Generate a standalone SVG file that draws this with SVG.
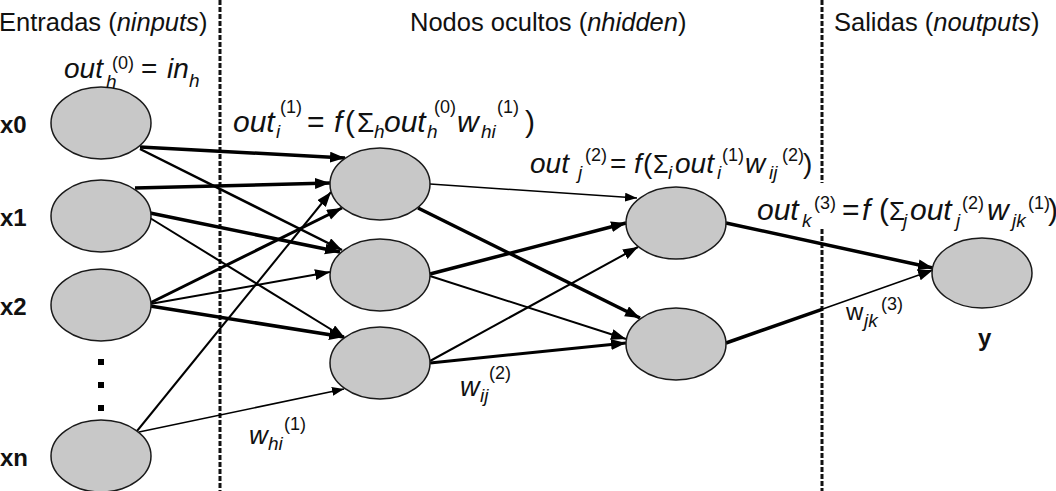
<svg xmlns="http://www.w3.org/2000/svg" width="1056" height="491" viewBox="0 0 1056 491">
<defs>
<marker id="ah" markerUnits="userSpaceOnUse" markerWidth="16" markerHeight="12" refX="15" refY="5.5" orient="auto"><path d="M0,0 L15,5.5 L0,11 z" fill="#000"/></marker>
<marker id="as" markerUnits="userSpaceOnUse" markerWidth="13" markerHeight="10" refX="12" refY="4.5" orient="auto"><path d="M0,0 L12,4.5 L0,9 z" fill="#000"/></marker>
<style>
.node{fill:#c8c8c8;stroke:#1a1a1a;stroke-width:1.5}
.c{fill:none;stroke:#000}
.t{font-family:"Liberation Sans",Arial,sans-serif;fill:#111}
.it{font-style:italic}
.b{font-weight:bold;font-size:24px}
.h{font-size:25.5px}
.sub{font-style:italic;font-size:19px}
.sup{font-size:18px}
.dash{stroke:#111;stroke-width:3;stroke-dasharray:5 2;fill:none}
</style>
</defs>
<rect width="1056" height="491" fill="#fff"/>

<g id="dividers">
<line class="dash" x1="220" y1="0" x2="220" y2="491"/>
<line class="dash" x1="822" y1="0" x2="822" y2="183"/>
<line class="dash" x1="822" y1="229" x2="822" y2="491"/>
</g>

<g id="headers" class="t h">
<text x="-1" y="31">Entradas (<tspan class="it">ninputs</tspan>)</text>
<text x="410" y="31">Nodos ocultos (<tspan class="it">nhidden</tspan>)</text>
<text x="834" y="31">Salidas (<tspan class="it">noutputs</tspan>)</text>
</g>

<g id="connectors">
<path class="c" stroke-width="3.5" marker-end="url(#ah)" d="M140,147 L345,158"/>
<path class="c" stroke-width="2.5" marker-end="url(#ah)" d="M140,149 L342,250"/>
<path class="c" stroke-width="3.5" marker-end="url(#ah)" d="M135,188 L330,183"/>
<path class="c" stroke-width="3.5" marker-end="url(#ah)" d="M150,213 L340,252"/>
<path class="c" stroke-width="2" marker-end="url(#ah)" d="M150,218 L345,338"/>
<path class="c" stroke-width="3" marker-end="url(#ah)" d="M150,303 L342,208"/>
<path class="c" stroke-width="2" marker-end="url(#ah)" d="M150,304 L330,272"/>
<path class="c" stroke-width="3.5" marker-end="url(#ah)" d="M150,306 L344,337"/>
<path class="c" stroke-width="2" marker-end="url(#ah)" d="M137,431 L331,192"/>
<path class="c" stroke-width="1.5" marker-end="url(#as)" d="M139,432 L344,389"/>
<path class="c" stroke-width="1.5" marker-end="url(#as)" d="M430,184 L637,198"/>
<path class="c" stroke-width="3.5" marker-end="url(#ah)" d="M418,208 L640,318"/>
<path class="c" stroke-width="3.5" marker-end="url(#ah)" d="M430,274 L626,223"/>
<path class="c" stroke-width="2" marker-end="url(#ah)" d="M430,276 L626,339"/>
<path class="c" stroke-width="2" marker-end="url(#ah)" d="M430,361 L638,247"/>
<path class="c" stroke-width="3" marker-end="url(#ah)" d="M430,363 L626,343"/>
<path class="c" stroke-width="3.5" marker-end="url(#ah)" d="M726,223 L933,268"/>
<path class="c" stroke-width="3.5" d="M726,343 L822,309.3"/>
<path class="c" stroke-width="1.5" marker-end="url(#ah)" d="M822,309.3 L933,270"/>
</g>

<g id="in0"><ellipse class="node" cx="101" cy="123" rx="50" ry="36"/><text class="t b" x="0" y="133">x0</text></g>
<g id="in1"><ellipse class="node" cx="101" cy="216" rx="50" ry="36"/><text class="t b" x="0" y="226">x1</text></g>
<g id="in2"><ellipse class="node" cx="101" cy="305" rx="50" ry="36"/><text class="t b" x="0" y="315">x2</text></g>
<g id="dots" fill="#000"><rect x="98" y="359" width="6" height="6"/><rect x="98" y="382" width="6" height="6"/><rect x="98" y="405" width="6" height="6"/></g>
<g id="inN"><ellipse class="node" cx="101" cy="456" rx="50" ry="36"/><text class="t b" x="0" y="466">xn</text></g>

<g id="h1a"><ellipse class="node" cx="380" cy="184" rx="50" ry="36"/></g>
<g id="h1b"><ellipse class="node" cx="380" cy="275" rx="50" ry="36"/></g>
<g id="h1c"><ellipse class="node" cx="380" cy="363" rx="50" ry="36"/></g>
<g id="h2a"><ellipse class="node" cx="676" cy="223" rx="50" ry="36"/></g>
<g id="h2b"><ellipse class="node" cx="676" cy="344" rx="50" ry="36"/></g>
<g id="out"><ellipse class="node" cx="982" cy="273" rx="50" ry="35"/><text class="t b" x="978" y="346">y</text></g>

<g id="formulas" class="t">
<text y="78" font-size="28"><tspan x="64" class="it">out</tspan><tspan x="106" y="88" class="sub" font-size="17">h</tspan><tspan x="112" y="69" class="sup" font-size="19">(0)</tspan><tspan x="141" y="78">=</tspan><tspan x="167" class="it">in</tspan><tspan x="189" y="87" class="sub">h</tspan></text>

<text y="132" font-size="30"><tspan x="233" class="it">out</tspan><tspan x="276" y="138" class="sub">i</tspan><tspan x="280" y="113" class="sup">(1)</tspan><tspan x="307" y="132">=</tspan><tspan x="334" class="it">f</tspan><tspan x="345">(</tspan><tspan x="357" font-size="28">Σ</tspan><tspan x="374" y="138" class="sub">h</tspan><tspan x="384" y="132" class="it">out</tspan><tspan x="427" y="138" class="sub">h</tspan><tspan x="434" y="113" class="sup">(0)</tspan><tspan x="457" y="132" class="it">w</tspan><tspan x="481" y="138" class="sub">hi</tspan><tspan x="497" y="113" class="sup">(1)</tspan><tspan x="525" y="132">)</tspan></text>

<text y="173" font-size="28"><tspan x="530" class="it">out</tspan><tspan x="578" y="179" class="sub">j</tspan><tspan x="585" y="161" class="sup">(2)</tspan><tspan x="610" y="173">=</tspan><tspan x="634" class="it">f</tspan><tspan x="643">(</tspan><tspan x="653" font-size="25">Σ</tspan><tspan x="668" y="179" class="sub">i</tspan><tspan x="675" y="173" class="it">out</tspan><tspan x="717" y="179" class="sub">i</tspan><tspan x="722" y="161" class="sup">(1)</tspan><tspan x="745" y="173" class="it">w</tspan><tspan x="769" y="179" class="sub">ij</tspan><tspan x="782" y="161" class="sup">(2)</tspan><tspan x="803" y="173">)</tspan></text>

<text y="220" font-size="30"><tspan x="757" class="it">out</tspan><tspan x="802" y="227" class="sub">k</tspan><tspan x="814" y="209" class="sup" font-size="19">(3)</tspan><tspan x="842" y="220">=</tspan><tspan x="862" class="it">f</tspan><tspan x="879">(</tspan><tspan x="889" font-size="26">Σ</tspan><tspan x="903" y="227" class="sub">j</tspan><tspan x="910" y="220" class="it">out</tspan><tspan x="956" y="227" class="sub">j</tspan><tspan x="962" y="209" class="sup">(2)</tspan><tspan x="987" y="220" class="it">w</tspan><tspan x="1012" y="227" class="sub">jk</tspan><tspan x="1028" y="209" class="sup">(1)</tspan><tspan x="1048" y="220">)</tspan></text>

<text y="444" font-size="26"><tspan x="249" class="it">w</tspan><tspan x="268" y="450" class="sub">hi</tspan><tspan x="284" y="430" class="sup">(1)</tspan></text>
<text y="396" font-size="27"><tspan x="460" class="it">w</tspan><tspan x="480" y="402" class="sub">ij</tspan><tspan x="489" y="379" class="sup">(2)</tspan></text>
<text y="320" font-size="24"><tspan x="846">w</tspan><tspan x="864" y="327" class="sub">jk</tspan><tspan x="881" y="310" class="sup" font-size="19">(3)</tspan></text>
</g>
</svg>
